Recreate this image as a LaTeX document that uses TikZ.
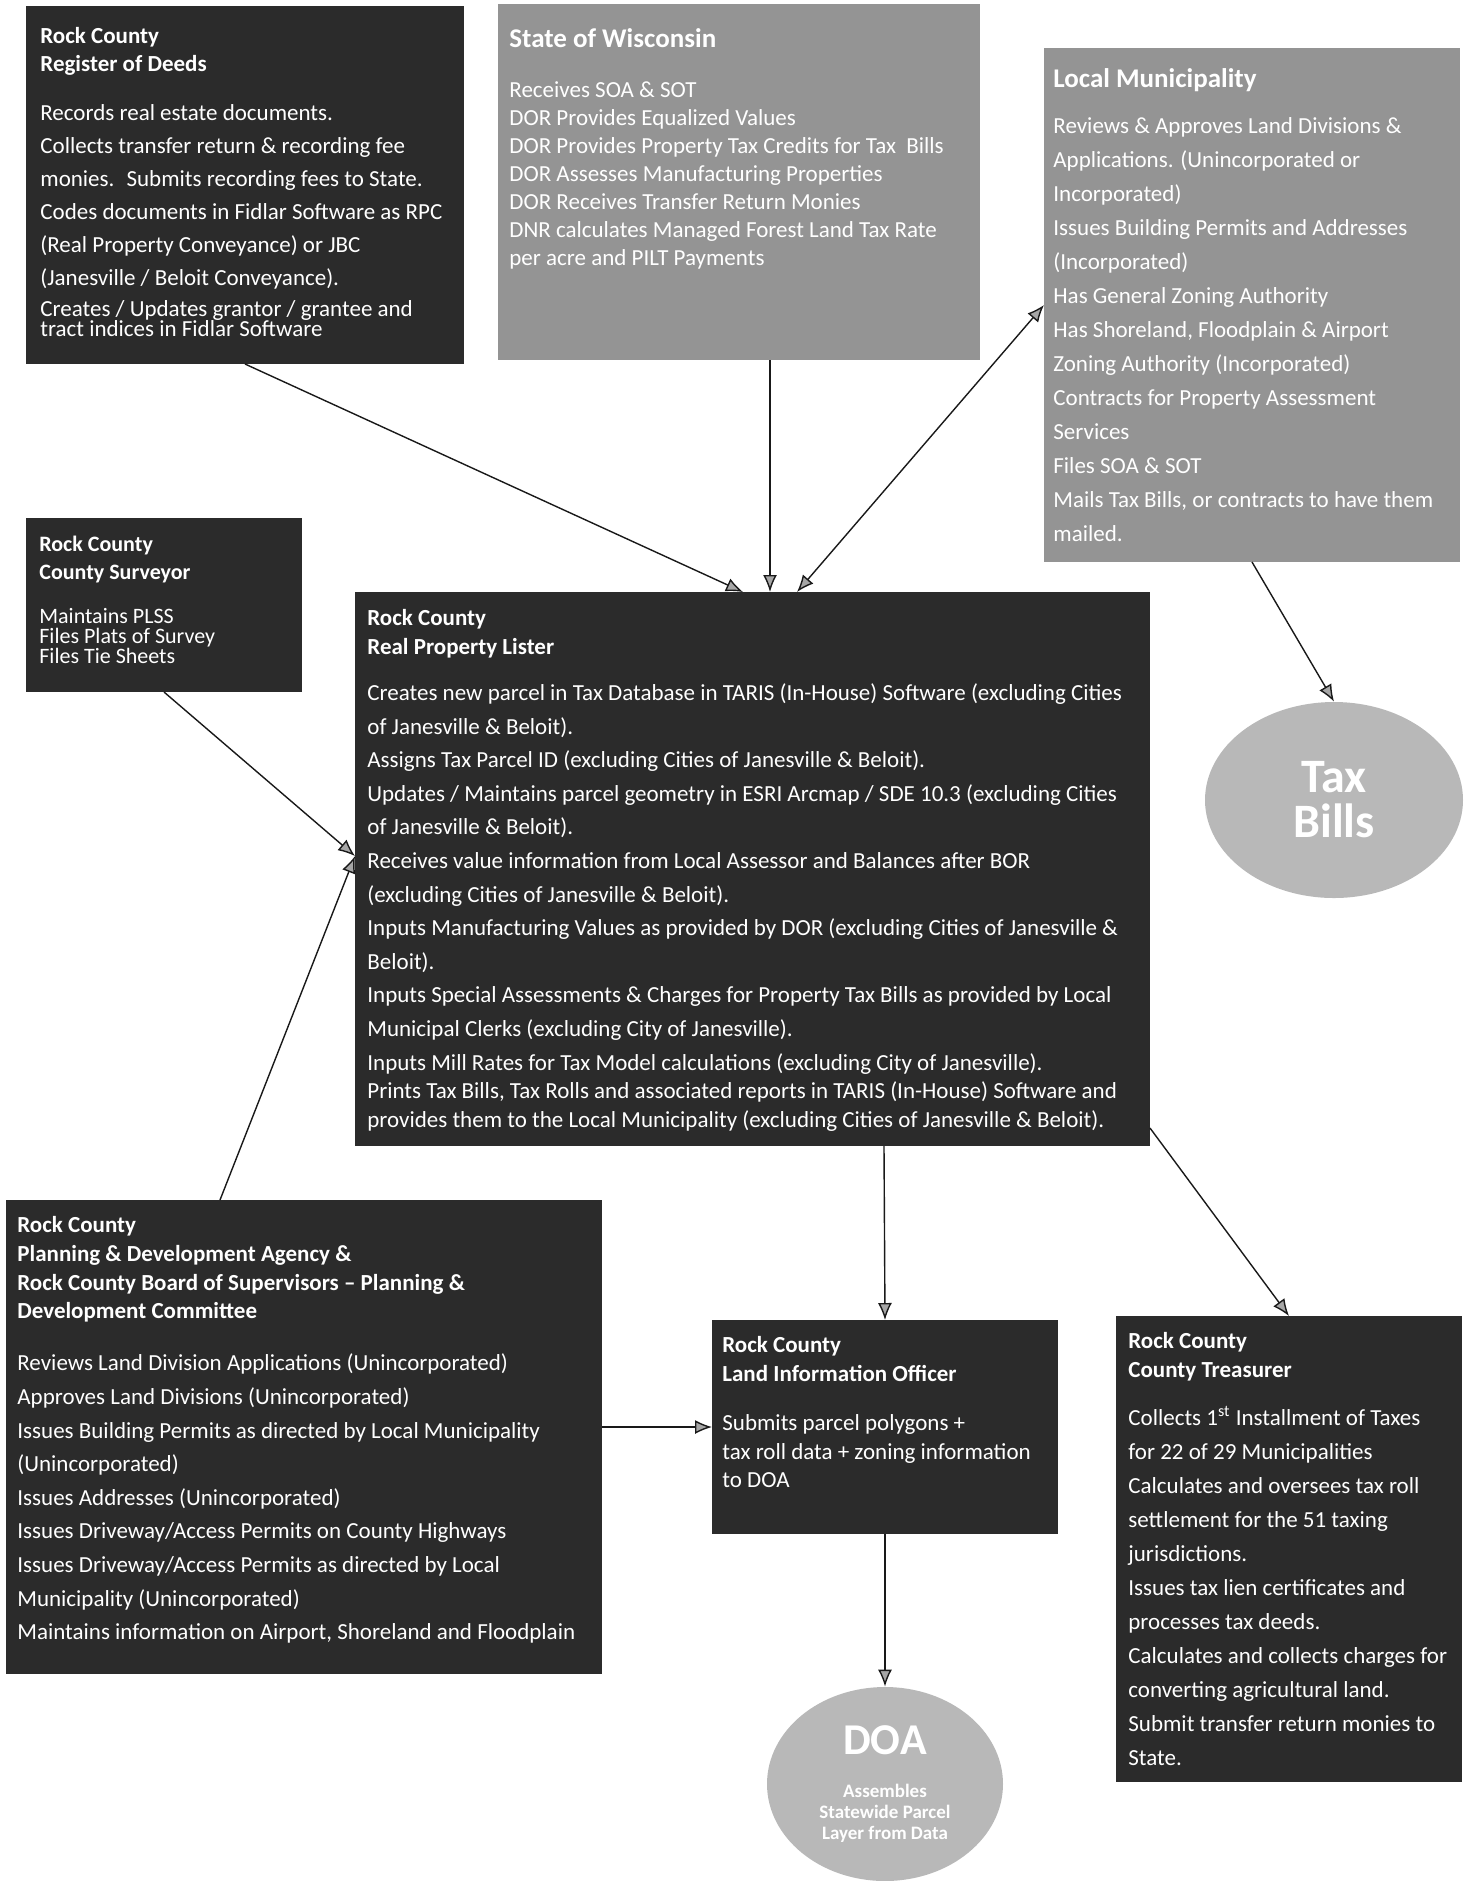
\documentclass[tikz,border=0pt]{standalone}
\usepackage{fontspec}
\setmainfont{Carlito}
\usetikzlibrary{arrows.meta, shapes.geometric}

\definecolor{panedark}{gray}{0.17}
\definecolor{panemid}{gray}{0.58}
\definecolor{ovalfill}{gray}{0.72}

\begin{document}
\begin{tikzpicture}[x=0.5pt, y=-0.5pt,
    pane/.style={anchor=north west, inner sep=0pt, outer sep=0pt},
    panetext/.style={anchor=north west, inner sep=0pt, align=left, text=white, font=\fontsize{11.5}{14}\selectfont},
    oval/.style={ellipse, fill=ovalfill, text=white, align=center, inner sep=0pt},
    >={Latex[length=8.5pt, width=7pt, fill=black!35]},
    link/.style={draw=black!90, line width=0.7pt, ->}]

        % page frame
        \useasboundingbox (0,0) rectangle (1470,1881);

        % the offices, each a filled panel with its text on top
        \node[pane, fill=panedark, minimum width=219pt, minimum height=179pt] (rod) at (26,6) {};
        \node[panetext] (rodtext) at ([shift={(7pt,-10.5pt)}]rod.north west) {%
                \textbf{Rock County}\\
                \textbf{Register of Deeds}\\[10.6pt]
                Records real estate documents.\\[2.5pt]
                Collects transfer return \& recording fee\\[2.5pt]
                monies.~ Submits recording fees to State.\\[2.5pt]
                Codes documents in Fidlar Software as RPC\\[2.5pt]
                (Real Property Conveyance) or JBC\\[2.5pt]
                (Janesville / Beloit Conveyance).\\[1.6pt]
                Creates / Updates grantor / grantee and\\[-4pt]
                tract indices in Fidlar Software};

        \node[pane, fill=panemid, minimum width=241pt, minimum height=178pt] (sow) at (498,4) {};
        \node[panetext] (sowtext) at ([shift={(5.5pt,-12pt)}]sow.north west) {%
                {\fontsize{13.5}{14}\selectfont\bfseries State of Wisconsin}\\[11pt]
                Receives SOA \& SOT\\
                DOR Provides Equalized Values\\
                DOR Provides Property Tax Credits for Tax~ Bills\\
                DOR Assesses Manufacturing Properties\\
                DOR Receives Transfer Return Monies\\
                DNR calculates Managed Forest Land Tax Rate\\
                per acre and PILT Payments};

        \node[pane, fill=panemid, minimum width=208pt, minimum height=257pt] (lm) at (1044,48) {};
        \node[panetext] (lmtext) at ([shift={(4.5pt,-10pt)}]lm.north west) {%
                {\fontsize{13.5}{14}\selectfont\bfseries Local Municipality}\\[9pt]
                Reviews \& Approves Land Divisions \&\\[3pt]
                Applications. (Unincorporated or\\[3pt]
                Incorporated)\\[3pt]
                Issues Building Permits and Addresses\\[3pt]
                (Incorporated)\\[3pt]
                Has General Zoning Authority\\[3pt]
                Has Shoreland, Floodplain \& Airport\\[3pt]
                Zoning Authority (Incorporated)\\[3pt]
                Contracts for Property Assessment\\[3pt]
                Services\\[3pt]
                Files SOA \& SOT\\[3pt]
                Mails Tax Bills, or contracts to have them\\[3pt]
                mailed.};

        \node[pane, fill=panedark, minimum width=138pt, minimum height=87pt] (surv) at (26,518) {};
        \node[panetext, font=\fontsize{11}{14}\selectfont] (survtext) at ([shift={(6.5pt,-9pt)}]surv.north west) {%
                \textbf{Rock County}\\
                \textbf{County Surveyor}\\[8pt]
                Maintains PLSS\\[-4pt]
                Files Plats of Survey\\[-4pt]
                Files Tie Sheets};

        \node[pane, fill=panedark, minimum width=397.5pt, minimum height=277pt] (rpl) at (355,592) {};
        \node[panetext] (rpltext) at ([shift={(6pt,-8.5pt)}]rpl.north west) {%
                \textbf{Rock County}\\[0.5pt]
                \textbf{Real Property Lister}\\[9pt]
                Creates new parcel in Tax Database in TARIS (In-House) Software (excluding Cities\\[2.8pt]
                of Janesville \& Beloit).\\[2.8pt]
                Assigns Tax Parcel ID (excluding Cities of Janesville \& Beloit).\\[2.8pt]
                Updates / Maintains parcel geometry in ESRI Arcmap / SDE 10.3 (excluding Cities\\[2.8pt]
                of Janesville \& Beloit).\\[2.8pt]
                Receives value information from Local Assessor and Balances after BOR\\[2.8pt]
                (excluding Cities of Janesville \& Beloit).\\[2.8pt]
                Inputs Manufacturing Values as provided by DOR (excluding Cities of Janesville \&\\[2.8pt]
                Beloit).\\[2.8pt]
                Inputs Special Assessments \& Charges for Property Tax Bills as provided by Local\\[2.8pt]
                Municipal Clerks (excluding City of Janesville).\\[2.8pt]
                Inputs Mill Rates for Tax Model calculations (excluding City of Janesville).\\[0.4pt]
                Prints Tax Bills, Tax Rolls and associated reports in TARIS (In-House) Software and\\[0.4pt]
                provides them to the Local Municipality (excluding Cities of Janesville \& Beloit).};

        \node[pane, fill=panedark, minimum width=298pt, minimum height=237pt] (plan) at (6,1200) {};
        \node[panetext] (plantext) at ([shift={(5.5pt,-8pt)}]plan.north west) {%
                \textbf{Rock County}\\[0.4pt]
                \textbf{Planning \& Development Agency \&}\\[0.4pt]
                \textbf{Rock County Board of Supervisors \textendash{} Planning \&}\\[0.4pt]
                \textbf{Development Committee}\\[12pt]
                Reviews Land Division Applications (Unincorporated)\\[2.8pt]
                Approves Land Divisions (Unincorporated)\\[2.8pt]
                Issues Building Permits as directed by Local Municipality\\[2.8pt]
                (Unincorporated)\\[2.8pt]
                Issues Addresses (Unincorporated)\\[2.8pt]
                Issues Driveway/Access Permits on County Highways\\[2.8pt]
                Issues Driveway/Access Permits as directed by Local\\[2.8pt]
                Municipality (Unincorporated)\\[2.8pt]
                Maintains information on Airport, Shoreland and Floodplain};

        \node[pane, fill=panedark, minimum width=173pt, minimum height=107pt] (lio) at (712,1320) {};
        \node[panetext] (liotext) at ([shift={(5pt,-8pt)}]lio.north west) {%
                \textbf{Rock County}\\[0.4pt]
                \textbf{Land Information Officer}\\[10.5pt]
                Submits parcel polygons +\\[0.4pt]
                tax roll data + zoning information\\[0.4pt]
                to DOA};

        \node[pane, fill=panedark, minimum width=173pt, minimum height=233pt] (tre) at (1116,1316) {};
        \node[panetext] (tretext) at ([shift={(6pt,-8pt)}]tre.north west) {%
                \textbf{Rock County}\\[0.4pt]
                \textbf{County Treasurer}\\[10pt]
                Collects 1\textsuperscript{st} Installment of Taxes\\[3pt]
                for 22 of 29 Municipalities\\[3pt]
                Calculates and oversees tax roll\\[3pt]
                settlement for the 51 taxing\\[3pt]
                jurisdictions.\\[3pt]
                Issues tax lien certificates and\\[3pt]
                processes tax deeds.\\[3pt]
                Calculates and collects charges for\\[3pt]
                converting agricultural land.\\[3pt]
                Submit transfer return monies to\\[3pt]
                State.};

        % the two ovals
        \node[oval, minimum width=129pt, minimum height=98pt, font=\fontsize{24}{22.5}\selectfont\bfseries] (taxbills) at (1334,800) {Tax\\Bills};
        \node[oval, minimum width=118pt, minimum height=97pt, font=\fontsize{9.5}{10.5}\selectfont\bfseries] (doa) at (885,1784) {%
                {\fontsize{22}{22}\selectfont DOA}\\[11pt]
                Assembles\\Statewide Parcel\\Layer from Data};

        % flows into the lister
        \draw[link] (rod.south) -- ([xshift=-4.75pt]rpl.north);
        \draw[link] ([xshift=15.5pt]sow.south) -- ([xshift=8.75pt]rpl.north);
        \draw[link, <->] (lm.west) -- ([xshift=22.25pt]rpl.north);
        \draw[link] (lm.south) -- (taxbills.north);
        \draw[link] (surv.south) -- ([yshift=6.5pt]rpl.west);
        \draw[link] ([xshift=-42pt]plan.north) -- ([yshift=6.5pt]rpl.west);

        % flows out of the lister
        \draw[link] ([xshift=65.75pt]rpl.south) -- (lio.north);
        \draw[link] ([yshift=9pt]rpl.south east) -- (tre.north);
        \draw[link] (plan.east |- lio.west) -- (lio.west);
        \draw[link] (lio.south) -- (doa.north);

\end{tikzpicture}
\end{document}
